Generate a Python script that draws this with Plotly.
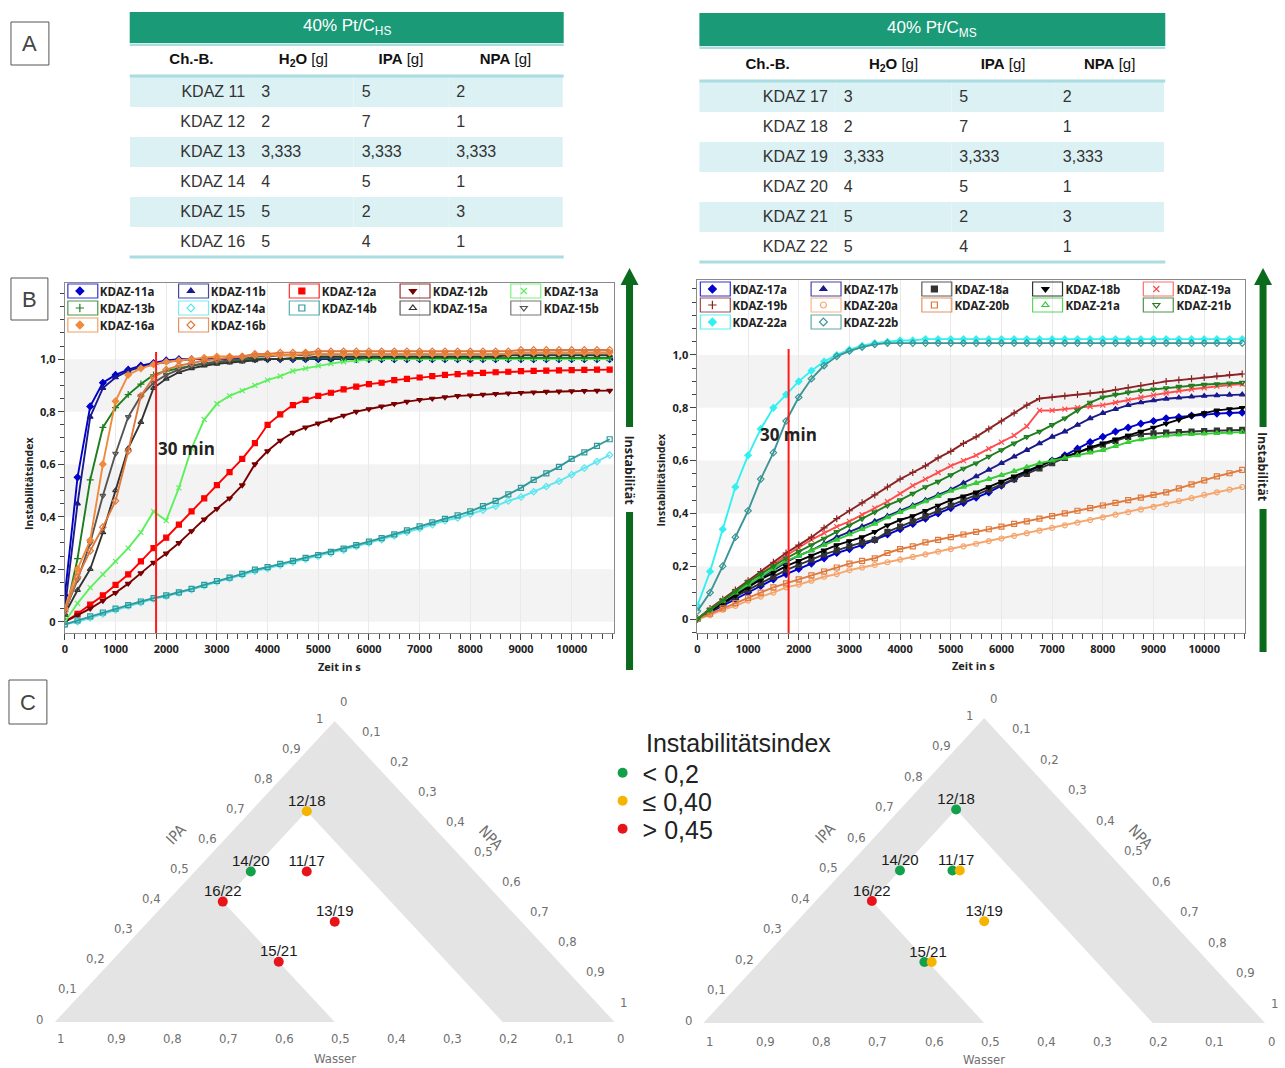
import plotly.graph_objects as go

FIG_W, FIG_H = 1285, 1068

# ===================== Panel A : tables =====================
HS_BATCHES = ["KDAZ 11", "KDAZ 12", "KDAZ 13", "KDAZ 14", "KDAZ 15", "KDAZ 16"]
MS_BATCHES = ["KDAZ 17", "KDAZ 18", "KDAZ 19", "KDAZ 20", "KDAZ 21", "KDAZ 22"]
H2O_G = [3, 2, 3.333, 4, 5, 5]
IPA_G = [5, 7, 3.333, 5, 2, 4]
NPA_G = [2, 1, 3.333, 1, 3, 1]
TABLE_TITLES = ["40% Pt/C<sub>HS</sub>", "40% Pt/C<sub>MS</sub>"]
TABLE_HEADER = ["<b>Ch.-B.</b>", "<b>H<sub>2</sub>O</b> [g]", "<b>IPA</b> [g]", "<b>NPA</b> [g]"]

# ===================== Panel B : instability curves =====================
TIME_S = [0, 250, 500, 750, 1000, 1250, 1500, 1750, 2000, 2250, 2500,
          2750, 3000, 3250, 3500, 3750, 4000, 4250, 4500, 4750, 5000, 5250,
          5500, 5750, 6000, 6250, 6500, 6750, 7000, 7250, 7500, 7750, 8000,
          8250, 8500, 8750, 9000, 9250, 9500, 9750, 10000, 10250, 10500, 10750]
X_TICKS = [0, 1000, 2000, 3000, 4000, 5000, 6000, 7000, 8000, 9000, 10000]
X_TICKTEXT = ["0", "1000", "2000", "3000", "4000", "5000", "6000", "7000", "8000", "9000", "10000"]
Y_TICKS = [0, 0.2, 0.4, 0.6, 0.8, 1.0]
Y_TICKTEXT = ["0", "0,2", "0,4", "0,6", "0,8", "1,0"]
T_30MIN = 1800

# --- 40% Pt/C HS ---
KDAZ_11A = [0.10, 0.55, 0.82, 0.91, 0.94, 0.96, 0.975, 0.985, 0.995, 1.0, 1.0,
            1.0, 1.0, 1.0, 1.0, 1.0, 1.0, 1.0, 1.0, 1.0, 1.0, 1.0,
            1.0, 1.0, 1.0, 1.0, 1.0, 1.0, 1.0, 1.0, 1.0, 1.0, 1.0,
            1.0, 1.0, 1.0, 1.0, 1.0, 1.0, 1.0, 1.0, 1.0, 1.0, 1.0]
KDAZ_11B = [0.05, 0.45, 0.78, 0.89, 0.93, 0.955, 0.97, 0.98, 0.99, 0.995, 1.0,
            1.0, 1.0, 1.0, 1.0, 1.0, 1.0, 1.0, 1.0, 1.0, 1.0, 1.0,
            1.0, 1.0, 1.0, 1.0, 1.0, 1.0, 1.0, 1.0, 1.0, 1.0, 1.0,
            1.0, 1.0, 1.0, 1.0, 1.0, 1.0, 1.0, 1.0, 1.0, 1.0, 1.0]
KDAZ_12A = [0.0, 0.03, 0.065, 0.1, 0.14, 0.18, 0.23, 0.28, 0.32, 0.37, 0.42,
            0.47, 0.52, 0.57, 0.62, 0.68, 0.75, 0.79, 0.825, 0.845, 0.86, 0.872,
            0.885, 0.895, 0.905, 0.91, 0.92, 0.925, 0.93, 0.935, 0.94, 0.943, 0.946,
            0.948, 0.95, 0.952, 0.954, 0.955, 0.956, 0.957, 0.958, 0.959, 0.96, 0.96]
KDAZ_12B = [0.0, 0.025, 0.05, 0.08, 0.11, 0.145, 0.185, 0.225, 0.26, 0.3, 0.345,
            0.39, 0.43, 0.47, 0.52, 0.6, 0.65, 0.69, 0.72, 0.74, 0.755, 0.77,
            0.785, 0.8, 0.81, 0.82, 0.83, 0.838, 0.845, 0.85, 0.855, 0.86, 0.862,
            0.865, 0.868, 0.87, 0.872, 0.874, 0.876, 0.877, 0.878, 0.879, 0.88, 0.88]
KDAZ_13A = [0.0, 0.07, 0.13, 0.18, 0.23, 0.28, 0.34, 0.42, 0.385, 0.51, 0.66,
            0.77, 0.83, 0.86, 0.88, 0.9, 0.92, 0.935, 0.955, 0.965, 0.975, 0.983,
            0.99, 0.995, 0.998, 1.0, 1.0, 1.0, 1.0, 1.0, 1.0, 1.0, 1.0,
            1.0, 1.0, 1.0, 1.0, 1.0, 1.0, 1.0, 1.0, 1.0, 1.0, 1.0]
KDAZ_13B = [0.02, 0.24, 0.54, 0.74, 0.815, 0.865, 0.905, 0.94, 0.955, 0.965, 0.975,
            0.982, 0.988, 0.992, 0.995, 1.0, 1.0, 1.0, 1.0, 1.0, 1.005, 1.005,
            1.005, 1.005, 1.005, 1.005, 1.005, 1.005, 1.005, 1.005, 1.005, 1.005, 1.005,
            1.005, 1.005, 1.005, 1.005, 1.005, 1.005, 1.005, 1.005, 1.005, 1.005, 1.005]
KDAZ_14A = [-0.01, 0.0, 0.015, 0.03, 0.045, 0.06, 0.073, 0.087, 0.097, 0.11, 0.122,
            0.137, 0.152, 0.165, 0.178, 0.193, 0.203, 0.215, 0.227, 0.238, 0.249, 0.261,
            0.273, 0.287, 0.3, 0.313, 0.327, 0.341, 0.355, 0.37, 0.385, 0.395, 0.41,
            0.425, 0.44, 0.46, 0.475, 0.495, 0.515, 0.535, 0.56, 0.585, 0.61, 0.635]
KDAZ_14B = [-0.01, 0.005, 0.02, 0.035, 0.05, 0.063, 0.077, 0.09, 0.1, 0.112, 0.125,
            0.14, 0.155, 0.168, 0.182, 0.198, 0.208, 0.22, 0.232, 0.243, 0.254, 0.266,
            0.278, 0.292, 0.305, 0.318, 0.333, 0.348, 0.363, 0.378, 0.392, 0.405, 0.42,
            0.44, 0.46, 0.485, 0.51, 0.54, 0.565, 0.59, 0.62, 0.645, 0.67, 0.695]
KDAZ_15A = [0.03, 0.12, 0.2, 0.34, 0.5, 0.66, 0.76, 0.89, 0.925, 0.95, 0.965,
            0.975, 0.982, 0.987, 0.99, 0.995, 1.0, 1.0, 1.005, 1.005, 1.01, 1.01,
            1.01, 1.01, 1.01, 1.01, 1.01, 1.01, 1.01, 1.01, 1.01, 1.01, 1.01,
            1.01, 1.01, 1.015, 1.015, 1.015, 1.015, 1.015, 1.015, 1.015, 1.015, 1.015]
KDAZ_15B = [0.04, 0.16, 0.3, 0.48, 0.64, 0.78, 0.86, 0.91, 0.94, 0.96, 0.975,
            0.985, 0.99, 0.995, 1.0, 1.01, 1.01, 1.015, 1.015, 1.015, 1.02, 1.02,
            1.02, 1.02, 1.02, 1.02, 1.02, 1.02, 1.02, 1.02, 1.02, 1.02, 1.02,
            1.02, 1.02, 1.02, 1.025, 1.025, 1.025, 1.025, 1.025, 1.025, 1.025, 1.025]
KDAZ_16A = [0.05, 0.2, 0.31, 0.6, 0.84, 0.94, 0.965, 0.98, 0.99, 0.995, 1.0,
            1.005, 1.01, 1.01, 1.01, 1.015, 1.015, 1.015, 1.015, 1.02, 1.02, 1.02,
            1.02, 1.02, 1.02, 1.02, 1.02, 1.02, 1.02, 1.02, 1.02, 1.02, 1.02,
            1.02, 1.02, 1.02, 1.025, 1.025, 1.025, 1.025, 1.025, 1.025, 1.025, 1.025]
KDAZ_16B = [0.04, 0.17, 0.27, 0.36, 0.46, 0.65, 0.86, 0.93, 0.96, 0.975, 0.985,
            0.995, 1.0, 1.005, 1.01, 1.02, 1.02, 1.025, 1.025, 1.025, 1.03, 1.03,
            1.03, 1.03, 1.03, 1.03, 1.03, 1.03, 1.03, 1.03, 1.03, 1.03, 1.03,
            1.03, 1.03, 1.03, 1.035, 1.035, 1.035, 1.035, 1.035, 1.035, 1.035, 1.035]

# --- 40% Pt/C MS ---
KDAZ_17A = [0.0, 0.025, 0.05, 0.075, 0.1, 0.125, 0.15, 0.17, 0.19, 0.21, 0.23,
            0.25, 0.265, 0.28, 0.3, 0.32, 0.34, 0.36, 0.38, 0.4, 0.42, 0.44,
            0.46, 0.48, 0.505, 0.53, 0.555, 0.58, 0.6, 0.62, 0.645, 0.67, 0.69,
            0.71, 0.725, 0.74, 0.75, 0.76, 0.765, 0.77, 0.775, 0.778, 0.78, 0.782]
KDAZ_17B = [0.0, 0.03, 0.06, 0.095, 0.125, 0.155, 0.185, 0.215, 0.24, 0.26, 0.285,
            0.31, 0.33, 0.35, 0.37, 0.39, 0.41, 0.43, 0.45, 0.47, 0.49, 0.515,
            0.54, 0.565, 0.59, 0.615, 0.64, 0.665, 0.69, 0.71, 0.735, 0.76, 0.78,
            0.795, 0.81, 0.82, 0.828, 0.834, 0.838, 0.842, 0.845, 0.847, 0.849, 0.85]
KDAZ_18A = [0.0, 0.03, 0.055, 0.085, 0.11, 0.135, 0.16, 0.185, 0.205, 0.225, 0.245,
            0.26, 0.275, 0.29, 0.3, 0.33, 0.35, 0.37, 0.39, 0.41, 0.43, 0.45,
            0.47, 0.49, 0.51, 0.53, 0.55, 0.57, 0.59, 0.61, 0.63, 0.645, 0.66,
            0.675, 0.69, 0.7, 0.703, 0.706, 0.708, 0.71, 0.712, 0.714, 0.715, 0.716]
KDAZ_18B = [0.0, 0.03, 0.06, 0.09, 0.12, 0.15, 0.175, 0.2, 0.22, 0.24, 0.26,
            0.28, 0.295, 0.31, 0.33, 0.355, 0.375, 0.39, 0.41, 0.43, 0.45, 0.465,
            0.48, 0.5, 0.52, 0.54, 0.56, 0.58, 0.6, 0.615, 0.63, 0.65, 0.665,
            0.68, 0.695, 0.71, 0.725, 0.74, 0.755, 0.77, 0.78, 0.79, 0.795, 0.8]
KDAZ_19A = [0.0, 0.035, 0.07, 0.105, 0.14, 0.17, 0.205, 0.24, 0.27, 0.3, 0.325,
            0.35, 0.37, 0.395, 0.42, 0.445, 0.475, 0.505, 0.53, 0.555, 0.58, 0.6,
            0.62, 0.645, 0.67, 0.695, 0.73, 0.79, 0.79, 0.795, 0.8, 0.805, 0.81,
            0.82, 0.83, 0.84, 0.848, 0.856, 0.864, 0.87, 0.876, 0.882, 0.886, 0.89]
KDAZ_19B = [0.0, 0.04, 0.075, 0.11, 0.145, 0.18, 0.215, 0.25, 0.28, 0.31, 0.345,
            0.38, 0.41, 0.44, 0.47, 0.5, 0.53, 0.555, 0.58, 0.61, 0.635, 0.665,
            0.69, 0.72, 0.75, 0.78, 0.81, 0.835, 0.84, 0.845, 0.85, 0.855, 0.86,
            0.868, 0.876, 0.884, 0.892, 0.9, 0.905, 0.91, 0.915, 0.92, 0.925, 0.928]
KDAZ_20A = [0.0, 0.015, 0.035, 0.05, 0.07, 0.085, 0.1, 0.12, 0.13, 0.145, 0.16,
            0.17, 0.185, 0.195, 0.205, 0.215, 0.225, 0.235, 0.245, 0.255, 0.265, 0.275,
            0.285, 0.295, 0.305, 0.315, 0.325, 0.335, 0.345, 0.355, 0.365, 0.375, 0.385,
            0.395, 0.405, 0.415, 0.425, 0.435, 0.447, 0.458, 0.47, 0.48, 0.49, 0.5]
KDAZ_20B = [0.0, 0.02, 0.04, 0.06, 0.08, 0.1, 0.12, 0.135, 0.15, 0.165, 0.18,
            0.195, 0.21, 0.22, 0.23, 0.25, 0.265, 0.275, 0.29, 0.3, 0.31, 0.32,
            0.33, 0.34, 0.35, 0.36, 0.37, 0.38, 0.39, 0.4, 0.41, 0.42, 0.43,
            0.44, 0.45, 0.46, 0.47, 0.48, 0.495, 0.51, 0.525, 0.54, 0.552, 0.565]
KDAZ_21A = [0.0, 0.035, 0.07, 0.1, 0.13, 0.16, 0.19, 0.22, 0.24, 0.26, 0.28,
            0.3, 0.32, 0.34, 0.36, 0.385, 0.405, 0.425, 0.445, 0.465, 0.485, 0.5,
            0.515, 0.53, 0.545, 0.56, 0.575, 0.59, 0.6, 0.61, 0.62, 0.63, 0.64,
            0.655, 0.67, 0.68, 0.688, 0.694, 0.698, 0.7, 0.702, 0.704, 0.706, 0.708]
KDAZ_21B = [0.0, 0.035, 0.07, 0.105, 0.14, 0.17, 0.2, 0.23, 0.255, 0.28, 0.305,
            0.33, 0.355, 0.38, 0.405, 0.43, 0.45, 0.475, 0.5, 0.52, 0.545, 0.57,
            0.59, 0.615, 0.64, 0.665, 0.69, 0.71, 0.735, 0.76, 0.79, 0.82, 0.84,
            0.85, 0.858, 0.865, 0.87, 0.875, 0.88, 0.884, 0.888, 0.89, 0.893, 0.895]
KDAZ_22A = [0.05, 0.18, 0.34, 0.5, 0.62, 0.72, 0.8, 0.85, 0.9, 0.94, 0.975,
            1.0, 1.02, 1.035, 1.045, 1.05, 1.055, 1.055, 1.06, 1.06, 1.06, 1.06,
            1.06, 1.06, 1.06, 1.06, 1.06, 1.06, 1.06, 1.06, 1.06, 1.06, 1.06,
            1.06, 1.06, 1.06, 1.06, 1.06, 1.06, 1.06, 1.06, 1.06, 1.06, 1.06]
KDAZ_22B = [0.03, 0.1, 0.2, 0.31, 0.41, 0.53, 0.63, 0.75, 0.84, 0.91, 0.96,
            0.995, 1.015, 1.03, 1.04, 1.045, 1.045, 1.045, 1.045, 1.045, 1.045, 1.045,
            1.045, 1.045, 1.045, 1.045, 1.045, 1.045, 1.045, 1.045, 1.045, 1.045, 1.045,
            1.045, 1.045, 1.045, 1.045, 1.045, 1.045, 1.045, 1.045, 1.045, 1.045, 1.045]

HS_NAMES = ["KDAZ-11a", "KDAZ-11b", "KDAZ-12a", "KDAZ-12b", "KDAZ-13a", "KDAZ-13b",
            "KDAZ-14a", "KDAZ-14b", "KDAZ-15a", "KDAZ-15b", "KDAZ-16a", "KDAZ-16b"]
HS_VALUES = [KDAZ_11A, KDAZ_11B, KDAZ_12A, KDAZ_12B, KDAZ_13A, KDAZ_13B,
             KDAZ_14A, KDAZ_14B, KDAZ_15A, KDAZ_15B, KDAZ_16A, KDAZ_16B]
MS_NAMES = ["KDAZ-17a", "KDAZ-17b", "KDAZ-18a", "KDAZ-18b", "KDAZ-19a", "KDAZ-19b",
            "KDAZ-20a", "KDAZ-20b", "KDAZ-21a", "KDAZ-21b", "KDAZ-22a", "KDAZ-22b"]
MS_VALUES = [KDAZ_17A, KDAZ_17B, KDAZ_18A, KDAZ_18B, KDAZ_19A, KDAZ_19B,
             KDAZ_20A, KDAZ_20B, KDAZ_21A, KDAZ_21B, KDAZ_22A, KDAZ_22B]

# ===================== Panel C : ternary diagrams =====================
TERN_LABELS = ["11/17", "12/18", "13/19", "14/20", "15/21", "16/22"]
CLASS_NAMES = ["< 0,2", "\u2264 0,40", "> 0,45"]
HS_CLASS = ["> 0,45", "\u2264 0,40", "> 0,45", "< 0,2", "> 0,45", "> 0,45"]
MS_CLASS_A = ["< 0,2", "< 0,2", "\u2264 0,40", "< 0,2", "< 0,2", "> 0,45"]
MS_CLASS_B = ["\u2264 0,40", "< 0,2", "\u2264 0,40", "< 0,2", "\u2264 0,40", "> 0,45"]
TERN_TICKS = [0, 0.1, 0.2, 0.3, 0.4, 0.5, 0.6, 0.7, 0.8, 0.9, 1.0]
TERN_TICKTEXT = ["0", "0,1", "0,2", "0,3", "0,4", "0,5", "0,6", "0,7", "0,8", "0,9", "1"]
# shaded composition region, vertices as (Wasser, IPA, NPA)
REGION_OUTER = [(1.0, 0.0, 0.0), (0.0, 1.0, 0.0), (0.0, 0.0, 1.0)]
REGION_INNER = [(0.2, 0.7, 0.1), (0.5, 0.4, 0.1), (0.5, 0.0, 0.5), (0.2, 0.0, 0.8)]

# ===================== styling =====================
SERIES_STYLE = {
    "KDAZ-11a": ("#0000cd", "diamond"), "KDAZ-11b": ("#1a1a8c", "triangle-up"),
    "KDAZ-12a": ("#ff0000", "square"), "KDAZ-12b": ("#7a0000", "triangle-down"),
    "KDAZ-13a": ("#5cf05c", "x-thin"), "KDAZ-13b": ("#1e7d1e", "cross-thin"),
    "KDAZ-14a": ("#5ce6f0", "diamond-open"), "KDAZ-14b": ("#2e9a9a", "square-open"),
    "KDAZ-15a": ("#333333", "triangle-up-open"), "KDAZ-15b": ("#555555", "triangle-down-open"),
    "KDAZ-16a": ("#f08a3c", "diamond"), "KDAZ-16b": ("#e0783c", "diamond-open"),
    "KDAZ-17a": ("#0000cd", "diamond"), "KDAZ-17b": ("#1a1a8c", "triangle-up"),
    "KDAZ-18a": ("#333333", "square"), "KDAZ-18b": ("#000000", "triangle-down"),
    "KDAZ-19a": ("#ff4d4d", "x-thin"), "KDAZ-19b": ("#8b2323", "cross-thin"),
    "KDAZ-20a": ("#f5a66e", "circle-open"), "KDAZ-20b": ("#e07a3c", "square-open"),
    "KDAZ-21a": ("#33cc33", "triangle-up-open"), "KDAZ-21b": ("#1e7d1e", "triangle-down-open"),
    "KDAZ-22a": ("#33f0f0", "diamond"), "KDAZ-22b": ("#3c9696", "diamond-open"),
}
CLASS_COLORS = {"< 0,2": "#12a04b", "\u2264 0,40": "#f5b400", "> 0,45": "#e8141c"}
TEXT_FONT = "Liberation Sans, Arial, sans-serif"
CHART_FONT = "Open Sans, Liberation Sans, sans-serif"
NARROW_FONT = "Liberation Sans Narrow, DejaVu Sans Condensed, Liberation Sans, sans-serif"
TEAL = "#1b9a78"
CYAN_LINE = "#a9dde2"
ROW_CYAN = "#dbf1f4"
ARROW_GREEN = "#0b6a1b"


def pxx(p):
    return p / FIG_W


def pxy(p):
    return 1 - p / FIG_H


def fmt_g(v):
    return str(int(v)) if float(v).is_integer() else str(v).replace(".", ",")


def paper_text(text, x, y, size, color="#222", family=TEXT_FONT, **kw):
    d = dict(text=text, xref="paper", yref="paper", x=pxx(x), y=pxy(y), showarrow=False,
             xanchor="center", yanchor="middle", font=dict(family=family, size=size, color=color))
    d.update(kw)
    return d


fig = go.Figure()
shapes = []
annotations = []
layout_extra = {}

# ---------------- Panel A ----------------
HEADER_H = 34
TABLE_GEOM = [
    dict(batches=HS_BATCHES, title=TABLE_TITLES[0], x0=127, x1=562, bar=(12, 43), top=42,
         colw=[124, 101, 95, 115]),
    dict(batches=MS_BATCHES, title=TABLE_TITLES[1], x0=698, x1=1165, bar=(13, 46), top=47,
         colw=[137, 116, 104, 110]),
]
for tb in TABLE_GEOM:
    top = tb["top"]
    bottom = top + HEADER_H + 6 * 30
    fig.add_trace(go.Table(
        domain=dict(x=[pxx(tb["x0"]), pxx(tb["x1"])], y=[pxy(bottom + 8), pxy(top)]),
        columnwidth=tb["colw"],
        header=dict(values=TABLE_HEADER, height=HEADER_H, fill_color="white",
                    line=dict(width=0, color="rgba(0,0,0,0)"), align="center",
                    font=dict(family=TEXT_FONT, size=15, color="#111")),
        cells=dict(values=[tb["batches"], [fmt_g(v) for v in H2O_G],
                           [fmt_g(v) for v in IPA_G], [fmt_g(v) for v in NPA_G]],
                   height=30,
                   fill_color=[[ROW_CYAN if i % 2 == 0 else "white" for i in range(6)]] * 4,
                   line=dict(width=0, color="rgba(0,0,0,0)"),
                   align=["right", "left", "left", "left"],
                   font=dict(family=TEXT_FONT, size=16, color="#333")),
    ))
    b0, b1 = tb["bar"]
    shapes.append(dict(type="rect", xref="paper", yref="paper", x0=pxx(tb["x0"]), x1=pxx(tb["x1"]),
                       y0=pxy(b1), y1=pxy(b0), fillcolor=TEAL, line_width=0, layer="above"))
    for (ya, yb) in [(b1 + 0.5, b1 + 3), (top + HEADER_H - 1.5, top + HEADER_H + 1.5),
                     (bottom - 0.5, bottom + 2.5)]:
        shapes.append(dict(type="rect", xref="paper", yref="paper", x0=pxx(tb["x0"]), x1=pxx(tb["x1"]),
                           y0=pxy(yb), y1=pxy(ya), fillcolor=CYAN_LINE, line_width=0, layer="above"))
    annotations.append(paper_text(tb["title"], (tb["x0"] + tb["x1"]) / 2, (b0 + b1) / 2, 17, color="white"))

# panel letters
for letter, x0, x1, y0, y1 in [("A", 8, 46, 22, 65), ("B", 8, 45, 278, 320), ("C", 6, 44, 680, 724)]:
    shapes.append(dict(type="rect", xref="paper", yref="paper", x0=pxx(x0), x1=pxx(x1),
                       y0=pxy(y1), y1=pxy(y0), line=dict(color="#555", width=1), fillcolor="white"))
    annotations.append(paper_text(letter, (x0 + x1) / 2, (y0 + y1) / 2, 22, color="#444"))

# ---------------- Panel B ----------------
LEG_PITCH = 111
CHARTS = [
    dict(xa="x", ya="y", names=HS_NAMES, values=HS_VALUES, xdom=(62, 612), ydom=(633, 283),
         yrange=(-0.043, 1.29), xmax=10827, legends=["legend", "legend2", "legend3"],
         leg_x=57, leg_y=[291, 308, 325], xt=(337, 666), yt=(26, 483),
         lbl_v=0.66, lbl_anchor="left", line_top=1.027, arrow_x=628, arrow=(268, 427, 470, 512, 670)),
    dict(xa="x2", ya="y2", names=MS_NAMES, values=MS_VALUES, xdom=(696, 1245), ydom=(633, 280),
         yrange=(-0.053, 1.284), xmax=10807, legends=["legend4", "legend5", "legend6"],
         leg_x=691, leg_y=[289, 305, 322], xt=(973, 665), yt=(660, 480),
         lbl_v=0.70, lbl_anchor="center", line_top=1.023, arrow_x=1263, arrow=(268, 427, 467, 509, 652)),
]

for ch in CHARTS:
    for name, vals in zip(ch["names"], ch["values"]):
        color, symbol = SERIES_STYLE[name]
        fig.add_trace(go.Scatter(
            x=TIME_S, y=vals, name=name, mode="lines+markers", xaxis=ch["xa"], yaxis=ch["ya"],
            showlegend=False, legendgroup=name,
            line=dict(color=color, width=1.9),
            marker=dict(symbol=symbol, size=5, color=color, line=dict(color=color, width=1.2)),
        ))
    # legend entries (marker only, in framed boxes like the original)
    for k, name in enumerate(ch["names"]):
        color, symbol = SERIES_STYLE[name]
        row, col = divmod(k, 5)
        fig.add_trace(go.Scatter(
            x=[None], y=[None], name=name, mode="markers", xaxis=ch["xa"], yaxis=ch["ya"],
            legend=ch["legends"][row], legendgroup=name,
            marker=dict(symbol=symbol, size=6, color=color, line=dict(color=color, width=1.2)),
        ))
        cx = ch["leg_x"] + 23 + col * LEG_PITCH
        cy = ch["leg_y"][row]
        shapes.append(dict(type="rect", xref="paper", yref="paper", x0=pxx(cx - 15), x1=pxx(cx + 15),
                           y0=pxy(cy + 7), y1=pxy(cy - 7), line=dict(color=color, width=1.2),
                           fillcolor="rgba(0,0,0,0)", opacity=0.8))
    axn = ch["xa"].replace("x", "xaxis")
    ayn = ch["ya"].replace("y", "yaxis")
    layout_extra[axn] = dict(
        domain=[pxx(ch["xdom"][0]), pxx(ch["xdom"][1])], range=[0, ch["xmax"]], anchor=ch["ya"],
        tickmode="array", tickvals=X_TICKS, ticktext=X_TICKTEXT, ticks="outside", ticklen=6,
        tickcolor="#444", tickfont=dict(family=CHART_FONT, size=11, color="#222", weight="bold"),
        minor=dict(tickmode="linear", tick0=0, dtick=200, ticks="outside", ticklen=5, tickcolor="#444"),
        showline=True, mirror=True, linecolor="#8a8a8a", linewidth=1,
        showgrid=True, gridcolor="#e9e9e9", zeroline=False)
    layout_extra[ayn] = dict(
        domain=[pxy(ch["ydom"][0]), pxy(ch["ydom"][1])], range=list(ch["yrange"]), anchor=ch["xa"],
        tickmode="array", tickvals=Y_TICKS, ticktext=Y_TICKTEXT, ticks="outside", ticklen=6,
        tickcolor="#444", tickfont=dict(family=CHART_FONT, size=11, color="#222", weight="bold"),
        minor=dict(tickmode="linear", tick0=0, dtick=0.05, ticks="outside", ticklen=4, tickcolor="#444"),
        showline=True, mirror=True, linecolor="#8a8a8a", linewidth=1,
        showgrid=False, zeroline=False)
    for (b0, b1) in [(0.0, 0.2), (0.4, 0.6), (0.8, 1.0)]:
        shapes.append(dict(type="rect", xref=ch["xa"] + " domain", yref=ch["ya"], x0=0, x1=1,
                           y0=b0, y1=b1, fillcolor="#f3f3f3", line_width=0, layer="below"))
    shapes.append(dict(type="line", xref=ch["xa"], yref=ch["ya"], x0=T_30MIN, x1=T_30MIN,
                       y0=ch["yrange"][0], y1=ch["line_top"], line=dict(color="#ff1a1a", width=2)))
    annotations.append(dict(text="<b>30 min</b>", xref=ch["xa"], yref=ch["ya"], x=T_30MIN, y=ch["lbl_v"],
                            xanchor=ch["lbl_anchor"], yanchor="middle", showarrow=False,
                            font=dict(family=CHART_FONT, size=17, color="#222")))
    for leg_name, ly in zip(ch["legends"], ch["leg_y"]):
        layout_extra[leg_name] = dict(
            orientation="h", x=pxx(ch["leg_x"]), y=pxy(ly), xanchor="left", yanchor="middle",
            bgcolor="rgba(0,0,0,0)", entrywidth=LEG_PITCH - 45, entrywidthmode="pixels",
            itemsizing="trace",
            font=dict(family=CHART_FONT, size=11.5, color="#222", weight="bold"), tracegroupgap=0)
    annotations.append(paper_text("<b>Zeit in s</b>", ch["xt"][0], ch["xt"][1], 11, family=CHART_FONT))
    annotations.append(paper_text("<b>Instabilitätsindex</b>", ch["yt"][0], ch["yt"][1], 10.5,
                                  family=CHART_FONT, textangle=-90))
    # green "Instabilität" arrow
    ax = ch["arrow_x"]
    a_top, a_l1, a_txt, a_l2, a_bot = ch["arrow"]
    shapes.append(dict(type="path", xref="paper", yref="paper",
                       path=f"M {pxx(ax - 9)},{pxy(a_top + 17)} L {pxx(ax + 9)},{pxy(a_top + 17)} L {pxx(ax)},{pxy(a_top)} Z",
                       fillcolor=ARROW_GREEN, line_width=0))
    for (s0, s1) in [(a_top + 15, a_l1), (a_l2, a_bot)]:
        shapes.append(dict(type="line", xref="paper", yref="paper", x0=pxx(ax), x1=pxx(ax),
                           y0=pxy(s1), y1=pxy(s0), line=dict(color=ARROW_GREEN, width=7)))
    annotations.append(paper_text("<b>Instabilität</b>", ax, a_txt, 12.5, family=CHART_FONT, textangle=90))


# ---------------- Panel C ----------------
def to_xy(w, i, n):
    s = w + i + n
    return n / s + 0.5 * i / s, i / s


TERNS = [
    dict(xa="x3", ya="y3", xdom=(52, 613), ydom=(1022, 721), classes_a=HS_CLASS, classes_b=HS_CLASS,
         legend=True, bottom_shift=-16, title_shift=-36),
    dict(xa="x4", ya="y4", xdom=(702, 1265), ydom=(1023, 718), classes_a=MS_CLASS_A, classes_b=MS_CLASS_B,
         legend=False, bottom_shift=-18, title_shift=-36),
]
PAIR_SHIFT = 0.0065
CLASS_LEGENDS = {"< 0,2": ("legend7", 773), "\u2264 0,40": ("legend8", 801), "> 0,45": ("legend9", 829)}

for tr in TERNS:
    xa, ya = tr["xa"], tr["ya"]
    for region, fill in [(REGION_OUTER, "#e4e4e4"), (REGION_INNER, "white")]:
        pts = [to_xy(*v) for v in region]
        fig.add_trace(go.Scatter(x=[p[0] for p in pts] + [pts[0][0]], y=[p[1] for p in pts] + [pts[0][1]],
                                 mode="lines", fill="toself", fillcolor=fill, line=dict(width=0, color=fill),
                                 hoverinfo="skip", showlegend=False, xaxis=xa, yaxis=ya))
    base = [to_xy(w, i, n) for w, i, n in zip(H2O_G, IPA_G, NPA_G)]
    for cls in CLASS_NAMES:
        xs, ys = [], []
        for k, (bx, by) in enumerate(base):
            ca, cb = tr["classes_a"][k], tr["classes_b"][k]
            if ca == cb:
                if ca == cls:
                    xs.append(bx); ys.append(by)
            else:
                if ca == cls:
                    xs.append(bx - PAIR_SHIFT); ys.append(by)
                if cb == cls:
                    xs.append(bx + PAIR_SHIFT); ys.append(by)
        fig.add_trace(go.Scatter(x=xs, y=ys, mode="markers", name=cls, legend=CLASS_LEGENDS[cls][0],
                                 showlegend=tr["legend"],
                                 marker=dict(size=10, color=CLASS_COLORS[cls]),
                                 xaxis=xa, yaxis=ya, cliponaxis=False))
    fig.add_trace(go.Scatter(x=[p[0] for p in base], y=[p[1] for p in base], mode="markers+text",
                             text=TERN_LABELS, textposition="top center",
                             textfont=dict(family=TEXT_FONT, size=15, color="#1a1a1a"),
                             marker=dict(size=1, color="rgba(0,0,0,0)"), showlegend=False,
                             xaxis=xa, yaxis=ya, cliponaxis=False, hoverinfo="skip"))
    layout_extra[xa.replace("x", "xaxis")] = dict(domain=[pxx(tr["xdom"][0]), pxx(tr["xdom"][1])],
                                                  range=[0, 1], visible=False, anchor=ya, fixedrange=True)
    layout_extra[ya.replace("y", "yaxis")] = dict(domain=[pxy(tr["ydom"][0]), pxy(tr["ydom"][1])],
                                                  range=[0, 1], visible=False, anchor=xa, fixedrange=True)
    tick_font = dict(family=NARROW_FONT, size=13, color="#707070")
    for v, t in zip(TERN_TICKS, TERN_TICKTEXT):
        # IPA (left edge)
        x, y = to_xy(1 - v, v, 0) if v < 1 else (0.5, 1.0)
        annotations.append(dict(text=t, xref=xa, yref=ya, x=x, y=y, xshift=-15, yshift=3,
                                showarrow=False, font=tick_font))
        # NPA (right edge)
        x, y = (0.5 + v / 2, 1 - v)
        annotations.append(dict(text=t, xref=xa, yref=ya, x=x, y=y, xshift=9, yshift=20,
                                showarrow=False, font=tick_font))
        # Wasser (bottom edge)
        annotations.append(dict(text=t, xref=xa, yref=ya, x=1 - v, y=0, xshift=6, yshift=tr["bottom_shift"],
                                showarrow=False, font=tick_font))
    title_font = dict(family=NARROW_FONT, size=15, color="#707070")
    annotations.append(dict(text="IPA", xref=xa, yref=ya, x=0.3, y=0.6, xshift=-46, yshift=7,
                            textangle=-47, showarrow=False, font=title_font))
    annotations.append(dict(text="NPA", xref=xa, yref=ya, x=0.7, y=0.6, xshift=44, yshift=3,
                            textangle=47, showarrow=False, font=title_font))
    annotations.append(dict(text="Wasser", xref=xa, yref=ya, x=0.5, y=0, yshift=tr["title_shift"],
                            showarrow=False, font=dict(family=NARROW_FONT, size=13, color="#707070")))

annotations.append(paper_text("Instabilitätsindex", 643, 743, 25, xanchor="left"))
for cls, (leg_name, ly) in CLASS_LEGENDS.items():
    layout_extra[leg_name] = dict(orientation="v", x=pxx(601), y=pxy(ly), xanchor="left", yanchor="middle",
                                  bgcolor="rgba(0,0,0,0)", itemsizing="trace",
                                  font=dict(family=TEXT_FONT, size=25, color="#222"))

fig.update_layout(
    width=FIG_W, height=FIG_H, margin=dict(l=0, r=0, t=0, b=0),
    paper_bgcolor="white", plot_bgcolor="white",
    font=dict(family=TEXT_FONT),
    shapes=shapes, annotations=annotations, showlegend=True,
    **layout_extra,
)

fig.write_html("out.html")
